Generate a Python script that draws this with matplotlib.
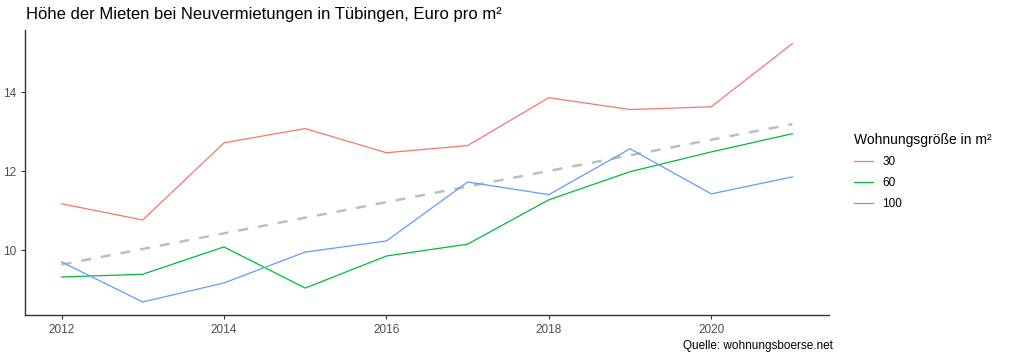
import matplotlib
matplotlib.use("Agg")
import matplotlib.pyplot as plt
import numpy as np

years = [2012, 2013, 2014, 2015, 2016, 2017, 2018, 2019, 2020, 2021]
rent_30 = [11.18, 10.77, 12.72, 13.08, 12.47, 12.65, 13.86, 13.56, 13.63, 15.23]
rent_60 = [9.33, 9.40, 10.09, 9.05, 9.86, 10.16, 11.28, 11.99, 12.49, 12.95]
rent_100 = [9.71, 8.70, 9.18, 9.96, 10.24, 11.73, 11.41, 12.57, 11.43, 11.86]
sizes = ["30", "60", "100"]
colors = ["#F8766D", "#00BA38", "#619CFF"]

plt.rcParams["font.family"] = ["Liberation Sans", "DejaVu Sans"]

fig = plt.figure(figsize=(10.24, 3.59), dpi=100)
ax = fig.add_axes([25 / 1024, 1 - 315 / 359, (829 - 25) / 1024, (315 - 30) / 359])

x = np.array(years)
for vals, lab, c in zip([rent_30, rent_60, rent_100], sizes, colors):
    ax.plot(x, vals, color=c, lw=0.9, label=lab)

# linear trend over all series (like geom_smooth(method="lm"))
xs = np.concatenate([x, x, x])
ys = np.concatenate([rent_30, rent_60, rent_100])
k, d = np.polyfit(xs, ys, 1)
ax.plot(x, k * x + d, color="#BEBEBE", lw=1.8, ls=(0, (4, 4)), zorder=1)

ax.set_xlim(2011.55, 2021.45)
ax.set_ylim(8.37, 15.57)
ax.set_xticks([2012, 2014, 2016, 2018, 2020])
ax.set_yticks([10, 12, 14])
for s in ["top", "right"]:
    ax.spines[s].set_visible(False)
for s in ["left", "bottom"]:
    ax.spines[s].set_color("#333333")
    ax.spines[s].set_linewidth(1.0)
ax.tick_params(colors="#333333", labelcolor="#4D4D4D", labelsize=8.5, length=3)

fig.text(26 / 1024, 1 - 14 / 359, "Höhe der Mieten bei Neuvermietungen in Tübingen, Euro pro m²",
         fontsize=12, va="center", ha="left", color="black")
fig.text(833 / 1024, 1 - 346 / 359, "Quelle: wohnungsboerse.net", fontsize=8.5,
         ha="right", va="center", color="black")

leg = ax.legend(title="Wohnungsgröße in m²", loc="upper left", bbox_to_anchor=(1.018, 0.675),
                frameon=False, fontsize=8.5, title_fontsize=10, handlelength=1.6,
                labelspacing=0.75, alignment="left")

fig.savefig("out.png", dpi=100)
